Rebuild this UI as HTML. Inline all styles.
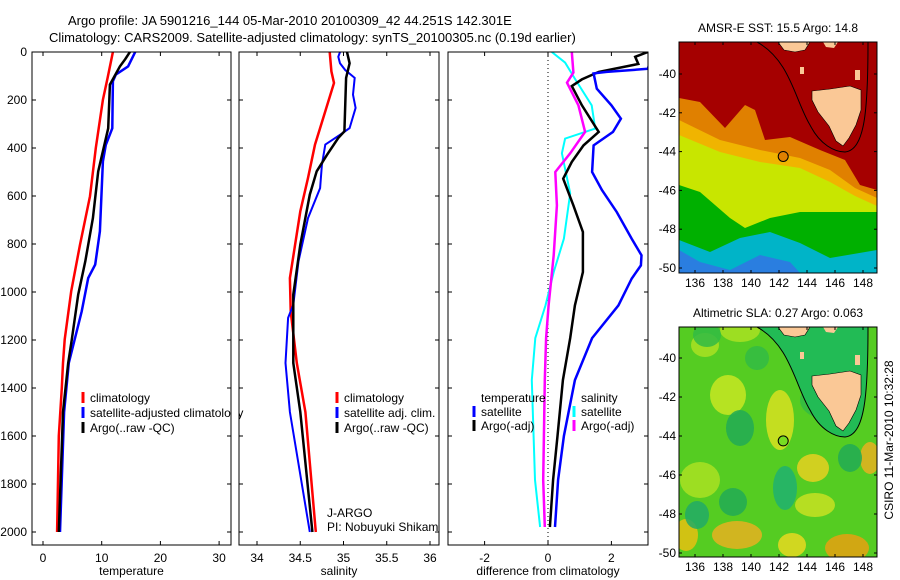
<!DOCTYPE html>
<html><head><meta charset="utf-8"><style>
html,body{margin:0;padding:0;background:#fff;}
svg{display:block;font-family:"Liberation Sans",sans-serif;}
</style></head><body>
<svg id="fig" width="900" height="580" viewBox="0 0 900 580" xmlns="http://www.w3.org/2000/svg">
<rect width="900" height="580" fill="#fff"/>
<text x="68" y="25" font-size="13">Argo profile: JA 5901216_144 05-Mar-2010 20100309_42 44.251S 142.301E</text>
<text x="49" y="42" font-size="13">Climatology: CARS2009. Satellite-adjusted climatology: synTS_20100305.nc (0.19d earlier)</text>
<g id="panels"></g>
<g id="maps"></g>
</svg>
<script>
// ---- data ----
const depthTicks = [0,200,400,600,800,1000,1200,1400,1600,1800,2000];
const tempTicks = [0,10,20,30];
const salTicks = [34,34.5,35,35.5,36];
const diffTicks = [-2,0,2];

const tClimDepth = [0,108,199,400,601,803,997,1198,1296,1400,1600,2000];
const tClimVal   = [11.9,11.0,10.2,9.0,8.0,6.3,4.8,3.7,3.4,3.2,2.7,2.4];
const tArgoDepth = [0,30,60,136,318,498,692,872,1011,1198,1296,1500,2000];
const tArgoVal   = [14.8,14.0,13.1,11.4,11.1,9.4,8.5,7.2,6.0,4.9,4.3,3.4,2.7];
const tSatDepth  = [0,60,94,122,318,387,456,747,886,942,1081,1296,1500,2000];
const tSatVal    = [15.7,14.5,12.4,11.9,11.8,10.7,10.2,9.7,8.9,7.7,6.6,4.4,3.6,2.9];

const sClimDepth = [0,81,129,247,386,525,664,803,942,1081,1296,1500,2000];
const sClimVal   = [34.84,34.86,34.89,34.79,34.67,34.59,34.50,34.44,34.38,34.39,34.46,34.56,34.68];
const sArgoDepth = [0,47,108,331,358,428,497,594,803,1011,1296,1500,2000];
const sArgoVal   = [35.04,35.07,35.03,35.01,34.94,34.81,34.69,34.61,34.50,34.42,34.42,34.50,34.64];
const sSatDepth  = [0,20,47,75,108,178,233,317,345,386,470,567,692,872,1053,1108,1296,1500,2000];
const sSatVal    = [34.96,34.94,34.96,35.02,35.13,35.11,35.14,35.07,34.96,34.79,34.75,34.73,34.59,34.48,34.42,34.36,34.33,34.38,34.61];

const dTSatDepth = [0,70,83,89,153,222,278,333,389,500,575,667,778,847,889,944,1056,1192,1367,1600,1783,1979];
const dTSatVal   = [3.3,3.15,1.85,1.44,1.54,2.0,2.3,2.05,1.44,1.39,1.7,2.17,2.64,2.95,2.93,2.64,2.22,1.39,0.85,0.5,0.32,0.22];
const dTArgoDepth = [0,20,50,83,114,142,222,333,389,458,528,639,750,917,1056,1192,1367,1600,1783,1979];
const dTArgoVal   = [3.15,2.75,2.85,1.6,1.07,0.75,1.07,1.6,1.12,0.75,0.48,0.8,1.1,1.1,0.85,0.7,0.47,0.3,0.16,0.06];
const dSArgoDepth = [0,86,128,222,333,422,500,639,847,1056,1192,1367,1783,1979];
const dSArgoVal   = [0.75,0.8,0.6,0.96,1.17,0.7,0.23,0.28,0.18,0.02,-0.06,-0.1,-0.15,-0.1];
const dSSatDepth  = [0,44,114,222,319,361,422,589,778,917,1056,1192,1367,1783,1979];
const dSSatVal    = [0.12,0.54,0.86,1.38,1.49,0.54,0.44,0.7,0.5,0.18,-0.08,-0.4,-0.51,-0.41,-0.25];

const lonTicks = [136,138,140,142,144,146,148];
const latTicks = [-40,-42,-44,-46,-48,-50];
const argoLon = 142.301, argoLat = -44.251;

// ---- helpers ----
const NS = "http://www.w3.org/2000/svg";
function mk(tag, attrs, parent, txt){
  const e = document.createElementNS(NS, tag);
  for (const k in attrs) e.setAttribute(k, attrs[k]);
  if (txt !== undefined) e.textContent = txt;
  parent.appendChild(e); return e;
}
const Y0 = 52, YB = 545, depthScale = 0.24;
const yDepth = d => Y0 + d*depthScale;

const panels = document.getElementById('panels');
const P = [
  {x0:32,x1:231, v0:43, k:5.87, ref:0, ticks:tempTicks, label:'temperature', name:'temperature-panel'},
  {x0:239,x1:439, v0:257, k:86.5, ref:34, ticks:salTicks, label:'salinity', name:'salinity-panel'},
  {x0:448,x1:648, v0:548, k:31.7, ref:0, ticks:diffTicks, label:'difference from climatology', name:'difference-panel'}
];
P.forEach((p,i)=>{
  p.fx = v => p.v0 + (v - p.ref)*p.k;
  const g = mk('g',{},panels);
  
  
  p.g = g;
  const cp = mk('clipPath',{id:'cp'+i},g);
  mk('rect',{x:p.x0,y:Y0,width:p.x1-p.x0,height:YB-Y0},cp);
  p.plot = mk('g',{'clip-path':'url(#cp'+i+')'},g);
  p.ticks.forEach(t=>{
    const x = p.fx(t);
    mk('line',{x1:x,x2:x,y1:YB,y2:YB-4,stroke:'#000'},g);
    mk('line',{x1:x,x2:x,y1:Y0,y2:Y0+4,stroke:'#000'},g);
    const tl = mk('text',{x:x,y:YB+17,'font-size':12,'text-anchor':'middle'},g,String(t));
    
    
  });
  depthTicks.forEach(d=>{
    const y = yDepth(d);
    mk('line',{x1:p.x0,x2:p.x0+4,y1:y,y2:y,stroke:'#000'},g);
    mk('line',{x1:p.x1,x2:p.x1-4,y1:y,y2:y,stroke:'#000'},g);
    if(i===0){
      const tl = mk('text',{x:p.x0-5,y:y+4,'font-size':12,'text-anchor':'end'},g,String(d));
      
      
    }
  });
  const xl = mk('text',{x:(p.x0+p.x1)/2,y:575,'font-size':12,'text-anchor':'middle'},g,p.label);
  
  
});
function line(p, depths, vals, color, w, name){
  const pts = depths.map((d,j)=>p.fx(vals[j]).toFixed(1)+','+yDepth(d).toFixed(1)).join(' ');
  const e = mk('polyline',{points:pts,fill:'none',stroke:color,'stroke-width':w,'stroke-linejoin':'miter'},p.plot);
  
  
}
line(P[0], tClimDepth, tClimVal, '#ff0000', 2.5, 'temp-climatology-line');
line(P[0], tSatDepth, tSatVal, '#0000ff', 2.5, 'temp-satellite-line');
line(P[0], tArgoDepth, tArgoVal, '#000', 2.5, 'temp-argo-line');
line(P[1], sClimDepth, sClimVal, '#ff0000', 2.5, 'sal-climatology-line');
line(P[1], sSatDepth, sSatVal, '#0000ff', 2, 'sal-satellite-line');
line(P[1], sArgoDepth, sArgoVal, '#000', 2.5, 'sal-argo-line');
mk('line',{x1:548,x2:548,y1:Y0,y2:YB,stroke:'#000','stroke-dasharray':'1,3'},P[2].plot);
line(P[2], dSSatDepth, dSSatVal, '#00ffff', 2, 'diff-sal-satellite-line');
line(P[2], dSArgoDepth, dSArgoVal, '#ff00ff', 2.5, 'diff-sal-argo-line');
line(P[2], dTArgoDepth, dTArgoVal, '#000', 2.5, 'diff-temp-argo-line');
line(P[2], dTSatDepth, dTSatVal, '#0000ff', 2.5, 'diff-temp-satellite-line');

// frames + legends
function legend(g, x, y, color, text, name){
  const lg = mk('g',{},g);
  
  
  if(color) mk('line',{x1:x,x2:x,y1:y-10,y2:y+1,stroke:color,'stroke-width':3},lg);
  mk('text',{x:x+7,y:y,'font-size':12},lg,text);
}
P.forEach(p=>{ mk('rect',{x:p.x0,y:Y0,width:p.x1-p.x0,height:YB-Y0,fill:'none',stroke:'#000'},p.g); });
legend(P[0].g, 83, 402, '#ff0000', 'climatology', 'legend-climatology');
legend(P[0].g, 83, 417, '#0000ff', 'satellite-adjusted climatology', 'legend-satellite-adjusted');
legend(P[0].g, 83, 432, '#000', 'Argo(..raw -QC)', 'legend-argo');
mk('rect',{x:231.5,y:380,width:7,height:60,fill:'#fff'},panels);
mk('rect',{x:239,y:Y0,width:200,height:YB-Y0,fill:'none',stroke:'#000'},panels);
legend(P[1].g, 337, 402, '#ff0000', 'climatology', 'legend-climatology');
legend(P[1].g, 337, 417, '#0000ff', 'satellite adj. clim.', 'legend-satellite-adj');
legend(P[1].g, 337, 432, '#000', 'Argo(..raw -QC)', 'legend-argo');
const cpTxt = mk('clipPath',{id:'cptxt'},panels); mk('rect',{x:239,y:490,width:200,height:50},cpTxt);
const pig = mk('g',{'clip-path':'url(#cptxt)'},panels);


mk('text',{x:327,y:517,'font-size':12},pig,'J-ARGO');
mk('text',{x:327,y:531,'font-size':12},pig,'PI: Nobuyuki Shikama');
legend(P[2].g, 474, 402, null, 'temperature', 'legend-temperature-header');
legend(P[2].g, 474, 416, '#0000ff', 'satellite', 'legend-diff-temp-satellite');
legend(P[2].g, 474, 430, '#000', 'Argo(-adj)', 'legend-diff-temp-argo');
legend(P[2].g, 574, 402, null, 'salinity', 'legend-salinity-header');
legend(P[2].g, 574, 416, '#00ffff', 'satellite', 'legend-diff-sal-satellite');
legend(P[2].g, 574, 430, '#ff00ff', 'Argo(-adj)', 'legend-diff-sal-argo');

// ---- maps ----
const maps = document.getElementById('maps');
function mapPanel(top, bottom, latK, lat40y, title, kind, name){
  const x0=679, x1=877, lonX = lon => 695 + (lon-136)*14;
  const latY = lat => lat40y + (-40-lat)*latK;
  const g = mk('g',{},maps);
  
  
  const id='mc'+top;
  const cp = mk('clipPath',{id:id},g); mk('rect',{x:x0,y:top,width:x1-x0,height:bottom-top},cp);
  const c = mk('g',{'clip-path':'url(#'+id+')'},g);
  const dy = top-42;
  const P = a => a.map(q=>q[0]+','+(q[1]+dy)).join(' ');
  if(kind==='sst'){
    mk('rect',{x:x0,y:top,width:198,height:bottom-top,fill:'#00b4c8'},c);
    mk('polygon',{points:P([[679,250],[700,262],[730,270],[760,255],[790,262],[800,273],[679,273]]),fill:'#2a7ee0'},c);
    mk('polygon',{points:P([[679,42],[877,42],[877,250],[830,258],[800,243],[770,232],[740,238],[710,252],[679,240]]),fill:'#00b000'},c);
    mk('polygon',{points:P([[679,42],[877,42],[877,212],[800,212],[770,218],[745,228],[730,218],[700,192],[679,185]]),fill:'#c8e600'},c);
    mk('polygon',{points:P([[679,42],[877,42],[877,206],[855,196],[830,182],[800,168],[760,162],[720,152],[679,135]]),fill:'#f0b400'},c);
    mk('polygon',{points:P([[679,42],[877,42],[877,198],[855,188],[830,170],[800,158],[760,150],[720,140],[679,120]]),fill:'#e08000'},c);
    mk('polygon',{points:P([[679,42],[877,42],[877,190],[860,185],[845,160],[820,150],[790,137],[765,140],[755,110],[745,105],[725,128],[700,102],[679,98]]),fill:'#a50000'},c);
  } else {
    mk('rect',{x:x0,y:top,width:198,height:bottom-top,fill:'#55cc22'},c);
    const blobs = [[705,345,14,12,'#aae022'],[740,330,20,12,'#aae022'],[728,395,18,20,'#c8e622'],[780,420,14,30,'#d8e020'],[813,468,16,14,'#e8d020'],[870,458,10,16,'#e8b020'],[686,535,12,16,'#e8c010'],[737,535,25,14,'#e8b020'],[847,548,22,14,'#e8a010'],[792,545,14,12,'#e8d820'],[815,505,20,12,'#c8e022'],[700,480,20,18,'#aae022'],
      [707,335,14,12,'#33bb44'],[757,358,12,12,'#33bb44'],[740,428,14,18,'#22aa55'],[785,488,12,22,'#20b070'],[697,515,12,14,'#22aa66'],[733,502,14,14,'#22aa55'],[850,458,12,14,'#22aa55'],[830,400,30,20,'#33bb44']];
    blobs.forEach(b=>mk('ellipse',{cx:b[0],cy:b[1],rx:b[2],ry:b[3],fill:b[4],opacity:0.85},c));
  }
  mk('path',{d:'M757,'+(42+dy)+' C790,'+(60+dy)+' 795,'+(100+dy)+' 810,'+(125+dy)+' C820,'+(145+dy)+' 835,'+(152+dy)+' 845,'+(152+dy)+' C865,'+(150+dy)+' 868,'+(110+dy)+' 868,'+(42+dy),fill:(kind==='sst'?'none':'#22bb55'),stroke:'#000','stroke-width':1},c);
  mk('polygon',{points:P([[812,91],[830,89],[850,86],[861,90],[861,110],[856,125],[849,138],[843,146],[836,141],[829,126],[818,112],[812,100]]),fill:'#fac896',stroke:'#000','stroke-width':0.6},c);
  mk('polygon',{points:P([[778,42],[810,42],[805,50],[795,52],[784,50]]),fill:'#fac896',stroke:'#000','stroke-width':0.6},c);
  mk('polygon',{points:P([[823,42],[838,42],[834,48],[826,47]]),fill:'#fac896'},c);
  mk('rect',{x:800,y:67+dy,width:4,height:7,fill:'#fac896'},c);
  mk('rect',{x:855,y:70+dy,width:5,height:10,fill:'#fac896'},c);
  const m = mk('circle',{cx:lonX(argoLon),cy:latY(argoLat),r:5,fill:(kind==='sst'?'#e08000':'#77dd22'),stroke:'#000'},g);
  
  
  mk('rect',{x:x0,y:top,width:x1-x0,height:bottom-top,fill:'none',stroke:'#000'},g);
  lonTicks.forEach(l=>{
    const x=lonX(l);
    mk('line',{x1:x,x2:x,y1:bottom,y2:bottom-3,stroke:'#000'},g);
    mk('line',{x1:x,x2:x,y1:top,y2:top+3,stroke:'#000'},g);
    const t=mk('text',{x:x,y:bottom+14,'font-size':12,'text-anchor':'middle'},g,String(l));
    
    
  });
  latTicks.forEach(l=>{
    const y=latY(l);
    mk('line',{x1:x0,x2:x0+3,y1:y,y2:y,stroke:'#000'},g);
    mk('line',{x1:x1,x2:x1-3,y1:y,y2:y,stroke:'#000'},g);
    const t=mk('text',{x:x0-3,y:y+4,'font-size':12,'text-anchor':'end'},g,String(l));
    
    
  });
  const tt = mk('text',{x:778,y:top-10,'font-size':12,'text-anchor':'middle'},g,title);
  
  
}
mapPanel(42, 273, 19.4, 74, 'AMSR-E SST: 15.5 Argo: 14.8', 'sst', 'sst-map');
mapPanel(327, 557, 19.5, 358, 'Altimetric SLA: 0.27 Argo: 0.063', 'sla', 'sla-map');
const cs = mk('text',{x:0,y:0,'font-size':12,'text-anchor':'middle',transform:'translate(893,440) rotate(-90)'},maps,'CSIRO 11-Mar-2010 10:32:28');


</script>
</body></html>
